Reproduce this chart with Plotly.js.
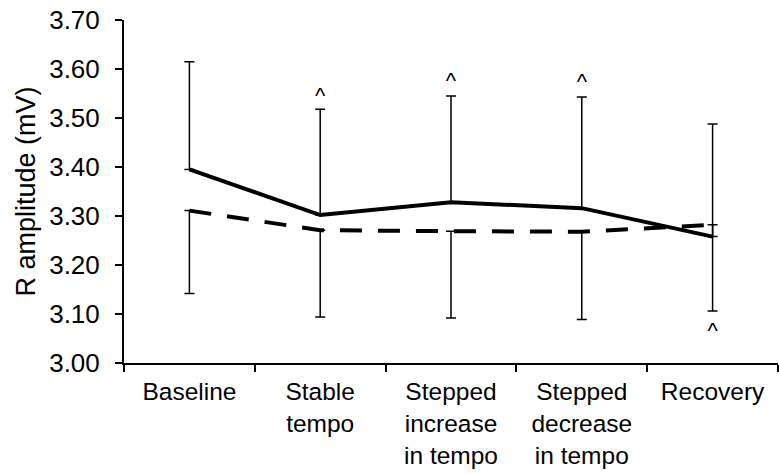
<!DOCTYPE html>
<html>
<head>
<meta charset="utf-8">
<script src="https://cdn.plot.ly/plotly-3.0.1.min.js"></script>
<style>html,body{margin:0;padding:0;background:#fff;}#chart{width:779px;height:474px;}</style>
</head>
<body>
<div id="chart"></div>
<script>
const categories = ["Baseline", "Stable<br>tempo", "Stepped<br>increase<br>in tempo", "Stepped<br>decrease<br>in tempo", "Recovery"];
const solidValues = [3.395, 3.302, 3.328, 3.316, 3.258];
const solidErrUp = [0.220, 0.216, 0.217, 0.227, 0.230];
const dashedValues = [3.311, 3.271, 3.269, 3.268, 3.282];
const dashedErrDown = [0.169, 0.177, 0.177, 0.179, 0.176];
const caretCategories = [categories[1], categories[2], categories[3], categories[4]];
const caretValues = [3.541, 3.572, 3.570, 3.063];
const yTickVals = [3.0, 3.1, 3.2, 3.3, 3.4, 3.5, 3.6, 3.7];

const family = "Liberation Sans, Arial, sans-serif";
const font = {family: family, size: 26, color: "#000"};
const xFont = {family: family, size: 24.5, color: "#000"};

const traces = [
  {
    x: categories, y: dashedValues, type: "scatter", mode: "lines",
    line: {color: "#000", width: 4, dash: "22px,16px"},
    error_y: {type: "data", symmetric: false, array: dashedValues.map(() => 0), arrayminus: dashedErrDown,
              color: "#000", thickness: 1.5, width: 5},
    hoverinfo: "skip", showlegend: false
  },
  {
    x: categories, y: solidValues, type: "scatter", mode: "lines",
    line: {color: "#000", width: 4},
    error_y: {type: "data", symmetric: false, array: solidErrUp, arrayminus: solidValues.map(() => 0),
              color: "#000", thickness: 1.5, width: 5},
    hoverinfo: "skip", showlegend: false
  },
  {
    x: caretCategories, y: caretValues, type: "scatter", mode: "text",
    text: caretCategories.map(() => "^"), textposition: "middle center",
    textfont: {family: family, size: 22, color: "#000"},
    hoverinfo: "skip", showlegend: false
  }
];

const layout = {
  width: 779, height: 474,
  margin: {l: 124, r: 1, t: 20, b: 111},
  paper_bgcolor: "#fff", plot_bgcolor: "#fff",
  font: font,
  showlegend: false,
  xaxis: {
    type: "category", range: [-0.5, 4.5],
    tickson: "boundaries", ticks: "outside", ticklen: 7, tickwidth: 2, tickcolor: "#000",
    showline: true, linewidth: 2, linecolor: "#000",
    showgrid: false, zeroline: false, tickangle: 0,
    tickfont: xFont, ticklabelstandoff: 6, fixedrange: true
  },
  yaxis: {
    range: [3.0, 3.7], tickvals: yTickVals, tickformat: ".2f",
    ticks: "outside", ticklen: 7, tickwidth: 2, tickcolor: "#000",
    showline: true, linewidth: 2, linecolor: "#000",
    showgrid: false, zeroline: false,
    tickfont: font, ticklabelstandoff: 10,
    title: {text: "R amplitude (mV)", font: {family: family, size: 27, color: "#000"}, standoff: 6},
    fixedrange: true
  }
};

Plotly.newPlot("chart", traces, layout, {staticPlot: true, displayModeBar: false});
</script>
</body>
</html>
